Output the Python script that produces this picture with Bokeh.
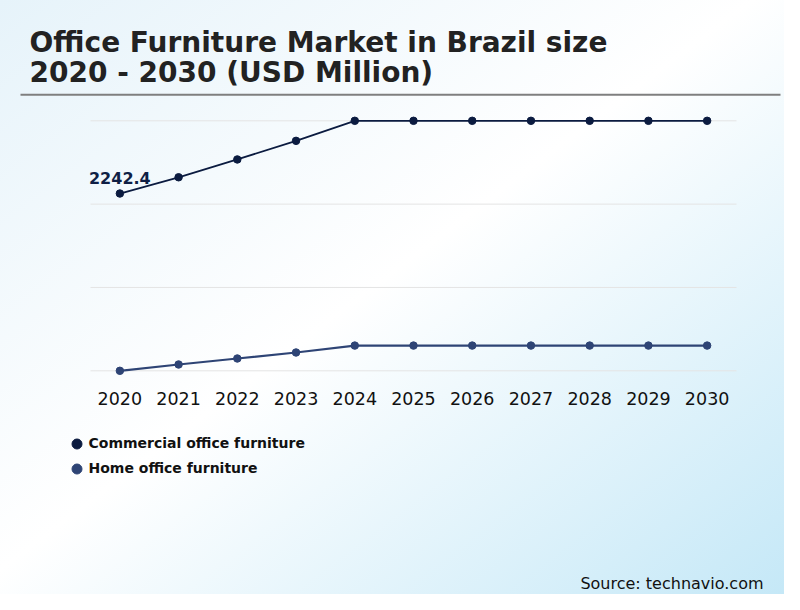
from bokeh.plotting import figure
from bokeh.models import (Label, LabelSet, BoxAnnotation, Legend, LegendItem,
                          FixedTicker, Range1d, ColumnDataSource)
from bokeh.core.properties import value
from bokeh.embed import file_html
from bokeh.resources import INLINE
import numpy as np

# ---- data ----
years = [2020, 2021, 2022, 2023, 2024, 2025, 2026, 2027, 2028, 2029, 2030]
commercial = [2242.4, 2402, 2577, 2760, 2957, 2957, 2957, 2957, 2957, 2957, 2957]
home = [500, 562, 621, 680, 748, 748, 748, 748, 748, 748, 748]
series_names = ["Commercial office furniture", "Home office furniture"]
tick_labels = [str(y) for y in years]
title_lines = ["Office Furniture Market in Brazil size", "2020 - 2030 (USD Million)"]
source_text = "Source: technavio.com"

# ---- styles / layout ----
FONT = "DejaVu Sans"
C_COM = "#0b1b40"
C_HOME = "#2e4475"
W, H = 784, 594
PLOT_L, PLOT_R = 90, 736          # px extent of the category band
Y_TOP_PX, Y_BOT_PX = 120.3, 370.3  # px of max / min gridlines

ymin, ymax = min(home), max(commercial)
span = ymax - ymin
upp = span / (Y_BOT_PX - Y_TOP_PX)          # data units per px
x0, x1 = years[0] - 0.5, years[-1] + 0.5
xpp = (x1 - x0) / (PLOT_R - PLOT_L)
x_range = Range1d(x0 - PLOT_L * xpp, x1 + (W - PLOT_R) * xpp)
y_range = Range1d(ymin - (H - Y_BOT_PX) * upp, ymax + Y_TOP_PX * upp)

p = figure(width=W, height=H, x_range=x_range, y_range=y_range,
           toolbar_location=None, output_backend="svg",
           y_axis_location=None, min_border=0,
           background_fill_color=None, border_fill_color=None,
           outline_line_color=None)
p.styles = {"background": "linear-gradient(to bottom right, #e6f3fa 0%, #ffffff 48%, #c5e8f7 100%)"}
p.xgrid.visible = False
p.ygrid.visible = False

# horizontal gridlines limited to the category band
grid_vals = list(np.linspace(ymin, ymax, 4))
p.segment(x0=[x0] * 4, x1=[x1] * 4, y0=grid_vals, y1=grid_vals,
          line_color="#e4e4e4", line_width=1)

# x axis drawn at the bottom gridline
ax = p.xaxis[0]
ax.fixed_location = ymin
ax.ticker = FixedTicker(ticks=years)
ax.major_label_overrides = {y: t for y, t in zip(years, tick_labels)}
ax.axis_line_color = None
ax.major_tick_line_color = None
ax.minor_tick_line_color = None
ax.major_tick_out = 0
ax.major_tick_in = 0
ax.major_label_standoff = 21
ax.major_label_text_font = FONT
ax.major_label_text_font_size = "17.5px"
ax.major_label_text_color = "#111111"

# series
p.line(years, commercial, line_color=C_COM, line_width=1.8)
r1 = p.scatter(years, commercial, size=7.5, fill_color=C_COM, line_color=C_COM)
p.line(years, home, line_color=C_HOME, line_width=2.2)
r2 = p.scatter(years, home, size=7.5, fill_color=C_HOME, line_color=C_HOME)

# data label
lab_src = ColumnDataSource(dict(x=[years[0]], y=[commercial[0]], t=[f"{commercial[0]:.1f}"]))
p.add_layout(LabelSet(x="x", y="y", text="t", source=lab_src, y_offset=10,
                      text_align="center", text_baseline="alphabetic",
                      text_font=value(FONT), text_font_style="bold",
                      text_font_size="16px", text_color="#0f1f45"))

# legend
legend = Legend(items=[LegendItem(label=series_names[0], renderers=[r1]),
                       LegendItem(label=series_names[1], renderers=[r2])],
                location=(63.5, H - 480.5), padding=0, spacing=-1, margin=0,
                glyph_width=25, glyph_height=25, label_standoff=0,
                background_fill_alpha=0, border_line_color=None,
                label_text_font=FONT, label_text_font_style="bold",
                label_text_font_size="14px", label_text_color="#111111")
p.add_layout(legend)

# title
for line, yb in zip(title_lines, [41.5, 71.5]):
    p.add_layout(Label(x=29, y=yb, x_units="canvas", y_units="canvas", text=line,
                       text_font=FONT, text_font_style="bold", text_font_size="28px",
                       text_color="#222222", text_baseline="alphabetic"))

# separator
p.add_layout(BoxAnnotation(left=20, right=780, top=93.3, bottom=95.3,
                           left_units="canvas", right_units="canvas",
                           top_units="canvas", bottom_units="canvas",
                           fill_color="#7f7f7f", fill_alpha=1, line_color=None))

# source
p.add_layout(Label(x=763, y=583, x_units="canvas", y_units="canvas", text=source_text,
                   text_font=FONT, text_font_size="16px", text_color="#111111",
                   text_align="right", text_baseline="alphabetic"))

open("out.html", "w").write(file_html(p, INLINE))
